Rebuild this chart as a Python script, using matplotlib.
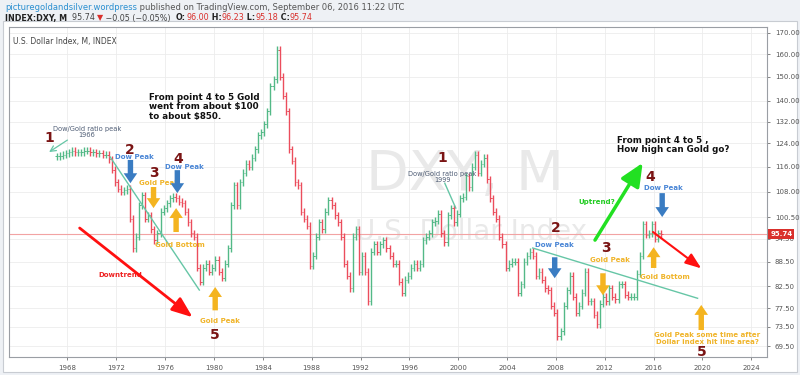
import numpy as np
import matplotlib.pyplot as plt
from matplotlib.patches import Rectangle
import matplotlib.transforms as mtransforms

# DXY quarterly closes, 1967 Q1 .. 2016 Q3
start_year = 1967
dxy_close = [
    119.5, 119.8, 120.0, 120.5,   # 1967
    121.0, 121.5, 121.0, 121.0,   # 1968
    121.0, 121.5, 121.5, 121.0,   # 1969
    121.0, 120.5, 120.5, 120.0,   # 1970
    120.0, 118.5, 115.0, 111.0,   # 1971
    109.0, 108.0, 108.5, 109.0,   # 1972
    100.0, 92.0, 95.0, 104.0,     # 1973
    107.0, 100.0, 101.0, 97.0,    # 1974
    94.0, 96.0, 102.0, 103.0,     # 1975
    104.5, 106.0, 106.5, 106.0,   # 1976
    105.0, 104.5, 102.0, 99.0,    # 1977
    96.0, 95.0, 87.0, 83.5,       # 1978
    87.0, 88.0, 86.0, 87.0,       # 1979
    89.0, 86.0, 84.5, 88.0,       # 1980
    92.0, 104.0, 110.0, 104.0,    # 1981
    111.0, 114.0, 117.0, 116.0,   # 1982
    119.0, 122.0, 127.0, 128.0,   # 1983
    131.0, 136.0, 146.0, 149.0,   # 1984
    162.0, 150.0, 142.0, 136.0,   # 1985
    122.0, 118.0, 111.0, 110.0,   # 1986
    102.0, 100.0, 98.0, 87.5,     # 1987
    90.0, 95.0, 99.0, 97.0,       # 1988
    102.0, 105.5, 104.0, 101.0,   # 1989
    99.0, 95.0, 88.0, 85.0,       # 1990
    82.0, 95.0, 97.0, 86.0,       # 1991
    90.0, 86.0, 79.0, 91.0,       # 1992
    93.0, 91.0, 93.0, 94.0,       # 1993
    92.0, 90.0, 88.0, 88.0,       # 1994
    83.5, 81.0, 84.0, 85.0,       # 1995
    87.0, 88.0, 87.0, 88.0,       # 1996
    94.0, 95.0, 96.0, 99.0,       # 1997
    99.5, 101.5, 96.0, 93.5,      # 1998
    101.0, 103.0, 99.0, 101.5,    # 1999
    106.0, 106.5, 113.0, 109.5,   # 2000
    116.0, 120.0, 114.0, 117.0,   # 2001
    119.0, 112.0, 106.0, 102.0,   # 2002
    100.0, 95.0, 93.0, 87.0,      # 2003
    88.0, 88.5, 88.5, 81.0,       # 2004
    83.0, 88.5, 90.0, 91.0,       # 2005
    90.0, 85.0, 86.0, 84.0,       # 2006
    82.0, 81.5, 78.0, 76.5,       # 2007
    71.5, 72.5, 78.0, 81.5,       # 2008
    85.0, 80.0, 76.5, 78.0,       # 2009
    81.0, 86.0, 79.0, 79.0,       # 2010
    76.0, 74.0, 78.5, 80.0,       # 2011
    79.0, 82.0, 80.0, 79.5,       # 2012
    83.0, 83.0, 80.5, 80.0,       # 2013
    80.0, 80.0, 85.5, 90.0,       # 2014
    98.5, 95.5, 96.0, 98.5,       # 2015
    94.5, 96.0, 95.74,            # 2016
]
last_price = 95.74

y_ticks = [69.5, 73.5, 77.5, 82.5, 88.5, 94.5, 100.5, 108, 116, 124, 132, 140, 150, 160, 170]
x_ticks = list(range(1968, 2025, 4))

# annotation text: (label, year, value)
wave_numbers = [("1", 1966.5, 125.9), ("2", 1973.1, 121.7), ("3", 1975.1, 114.0),
                ("4", 1977.1, 118.6), ("5", 1980.1, 71.7),
                ("1", 1998.7, 119.0), ("2", 2008.0, 97.5), ("3", 2012.1, 92.0),
                ("4", 2015.7, 112.7), ("5", 2019.9, 68.3)]
blue_labels = [("Dow Peak", 1973.5, 119.3), ("Dow Peak", 1977.6, 115.9),
               ("Dow Peak", 2007.9, 92.8), ("Dow Peak", 2016.8, 109.2)]
gold_labels = [("Gold Peak", 1975.5, 110.7), ("Gold Bottom", 1977.2, 92.8),
               ("Gold Peak", 1980.5, 74.7), ("Gold Peak", 2012.4, 88.9),
               ("Gold Bottom", 2016.9, 84.7),
               ("Gold Peak some time after\nDollar index hit line area?", 2020.4, 71.1)]
# short block arrows: (year, value_from, value_to)
blue_arrows = [(1973.16, 118.3, 110.7), (1977.0, 114.9, 107.6),
               (2007.9, 89.6, 84.4), (2016.7, 107.6, 100.5)]
gold_arrows = [(1975.05, 109.5, 103.1), (1976.9, 96.3, 103.1), (1980.1, 77.0, 82.3),
               (2011.85, 85.6, 80.4), (2016.0, 86.9, 92.2), (2019.9, 72.8, 78.2)]
teal_lines = [((1971.5, 119.3), (1978.8, 81.6)), ((2006.1, 92.0), (2019.6, 79.7)),
              ((1998.9, 110.7), (1999.8, 103.1))]

fig = plt.figure(figsize=(8, 3.75), dpi=100, facecolor='#eef1f5')
fig.patches.append(Rectangle((0.004, 0.008), 0.992, 0.935, transform=fig.transFigure,
                             facecolor='white', edgecolor='#c8ccd2', lw=0.8, zorder=-5))
ax = fig.add_axes([0.011, 0.048, 0.948, 0.88])
ax.set_zorder(2)
ax.set_facecolor('white')

# bars from previous close to close, with a small wick
dates = start_year + np.arange(len(dxy_close)) * 0.25 + 0.125
closes = np.array(dxy_close)
opens = np.concatenate([[closes[0]], closes[:-1]])
up = closes >= opens
colors = np.where(up, '#53b987', '#eb4d5c')
ax.vlines(dates, np.minimum(opens, closes) * 0.99, np.maximum(opens, closes) * 1.01,
          colors=colors, lw=1.0, zorder=3)
ax.hlines(opens, dates - 0.11, dates, colors=colors, lw=0.7, zorder=3)
ax.hlines(closes, dates, dates + 0.11, colors=colors, lw=0.7, zorder=3)

ax.set_yscale('log')
ax.set_xlim(1963.2, 2025.3)
ax.set_ylim(67.4, 172.9)
ax.yaxis.tick_right()
ax.set_yticks(y_ticks)
ax.set_yticklabels([f"{v:.2f}" for v in y_ticks])
ax.yaxis.set_minor_locator(plt.NullLocator())
ax.yaxis.set_minor_formatter(plt.NullFormatter())
ax.set_xticks(x_ticks)
ax.tick_params(axis='both', labelsize=5, colors='#555555', length=2, width=0.5)
ax.grid(True, color='#ececec', lw=0.6)
ax.set_axisbelow(True)
for s in ax.spines.values():
    s.set_color('#9a9ea4')
    s.set_linewidth(0.8)

# last price line and label
ax.axhline(last_price, color='#f2a3a3', lw=0.8, zorder=2)
trans = mtransforms.blended_transform_factory(ax.transAxes, ax.transData)
ax.text(1.004, last_price, f"{last_price:.2f}", transform=trans, fontsize=5, color='white',
        va='center', ha='left', fontweight='bold',
        bbox=dict(boxstyle='square,pad=0.25', fc='#d9302c', ec='none'))

# watermark
ax.text(0.602, 0.552, "DXY, M", transform=ax.transAxes, fontsize=40, color='#e9e9e9',
        ha='center', va='center', zorder=1)
ax.text(0.609, 0.379, "U.S. Dollar Index", transform=ax.transAxes, fontsize=20,
        color='#e9e9e9', ha='center', va='center', zorder=1)
ax.text(0.006, 0.97, "U.S. Dollar Index, M, INDEX", transform=ax.transAxes, fontsize=5.5,
        color='#444444', va='top')

# annotations
for lab, x, y in wave_numbers:
    ax.text(x, y, lab, fontsize=10, fontweight='bold', color='#7a1414', ha='center',
            va='center', zorder=5)
for lab, x, y in blue_labels:
    ax.text(x, y, lab, fontsize=5, fontweight='bold', color='#4a86d6', ha='center',
            va='center', zorder=5)
for lab, x, y in gold_labels:
    ax.text(x, y, lab, fontsize=5, fontweight='bold', color='#f0b429', ha='center',
            va='center', zorder=5, linespacing=1.1)

block = 'simple,head_width=0.75,head_length=0.55,tail_width=0.3'
for x, y0, y1 in blue_arrows:
    ax.annotate('', xy=(x, y1), xytext=(x, y0), zorder=5,
                arrowprops=dict(arrowstyle=block, color='#3a7cc2', lw=0, mutation_scale=13,
                                shrinkA=0, shrinkB=0))
for x, y0, y1 in gold_arrows:
    ax.annotate('', xy=(x, y1), xytext=(x, y0), zorder=5,
                arrowprops=dict(arrowstyle=block, color='#f4b420', lw=0, mutation_scale=13,
                                shrinkA=0, shrinkB=0))
for p0, p1 in teal_lines:
    ax.plot([p0[0], p1[0]], [p0[1], p1[1]], color='#66c6a6', lw=1, zorder=4)

ax.annotate('', xy=(1966.5, 121.0), xytext=(1968.0, 125.2), zorder=5,
            arrowprops=dict(arrowstyle='->', color='#66c6a6', lw=0.9, shrinkA=0, shrinkB=0))
ax.text(1969.6, 128.1, "Dow/Gold ratio peak\n1966", fontsize=4.8, color='#4f5d75',
        ha='center', va='center', linespacing=0.95)
ax.text(1998.7, 112.6, "Dow/Gold ratio peak\n1999", fontsize=4.8, color='#4f5d75',
        ha='center', va='center', linespacing=0.95)

# trend arrows
ax.annotate('', xy=(1978.25, 75.5), xytext=(1969.0, 97.4), zorder=5,
            arrowprops=dict(arrowstyle='-|>,head_width=0.35,head_length=0.9', color='#ff1010',
                            lw=2, mutation_scale=14, shrinkA=0, shrinkB=0))
ax.text(1972.3, 85.1, "Downtrend", fontsize=5, fontweight='bold', color='#ee2222',
        ha='center', va='center')
ax.annotate('', xy=(2019.9, 86.8), xytext=(2015.95, 96.3), zorder=5,
            arrowprops=dict(arrowstyle='-|>,head_width=0.3,head_length=0.8', color='#ff1010',
                            lw=1.5, mutation_scale=12, shrinkA=0, shrinkB=0))
ax.annotate('', xy=(2015.1, 117.3), xytext=(2011.2, 94.1), zorder=5,
            arrowprops=dict(arrowstyle='-|>,head_width=0.45,head_length=1.0', color='#22e022',
                            lw=2.5, mutation_scale=14, shrinkA=0, shrinkB=0))
ax.text(2011.35, 104.9, "Uptrend?", fontsize=5, fontweight='bold', color='#22cc22',
        ha='center', va='center')

ax.text(1974.7, 137.6, "From point 4 to 5 Gold\nwent from about $100\nto about $850.",
        fontsize=6.3, fontweight='bold', color='#111111', ha='left', va='center',
        linespacing=1.05)
ax.text(2013.0, 123.4, "From point 4 to 5 ,\nHow high can Gold go?",
        fontsize=6.3, fontweight='bold', color='#111111', ha='left', va='center',
        linespacing=1.05)

# header lines
t = fig.text(0.006, 0.98, "picturegoldandsilver.wordpress", fontsize=6, color='#2a8fd0',
             va='center')
fig.add_artist(plt.Annotation(" published on TradingView.com, September 06, 2016 11:22 UTC",
                              xy=(1, 0), xycoords=t, fontsize=6, color='#555555',
                              va='bottom', annotation_clip=False))

parts = [("INDEX:DXY, M", '#222222', 'bold'), ("  95.74 ", '#444444', 'normal'),
         ("\u25bc", '#d9302c', 'normal'), (" \u22120.05 (\u22120.05%)  ", '#444444', 'normal'),
         ("O:", '#222222', 'bold'), ("96.00", '#d9302c', 'normal'),
         (" H:", '#222222', 'bold'), ("96.23", '#d9302c', 'normal'),
         (" L:", '#222222', 'bold'), ("95.18", '#d9302c', 'normal'),
         (" C:", '#222222', 'bold'), ("95.74", '#d9302c', 'normal')]
prev = fig.text(0.006, 0.952, parts[0][0], fontsize=5.8, color=parts[0][1],
                fontweight=parts[0][2], va='center')
for txt, col, w in parts[1:]:
    prev = fig.add_artist(plt.Annotation(txt, xy=(1, 0), xycoords=prev, fontsize=5.8,
                                         color=col, fontweight=w, va='bottom',
                                         annotation_clip=False))

fig.savefig('out.png', dpi=100, facecolor=fig.get_facecolor())
